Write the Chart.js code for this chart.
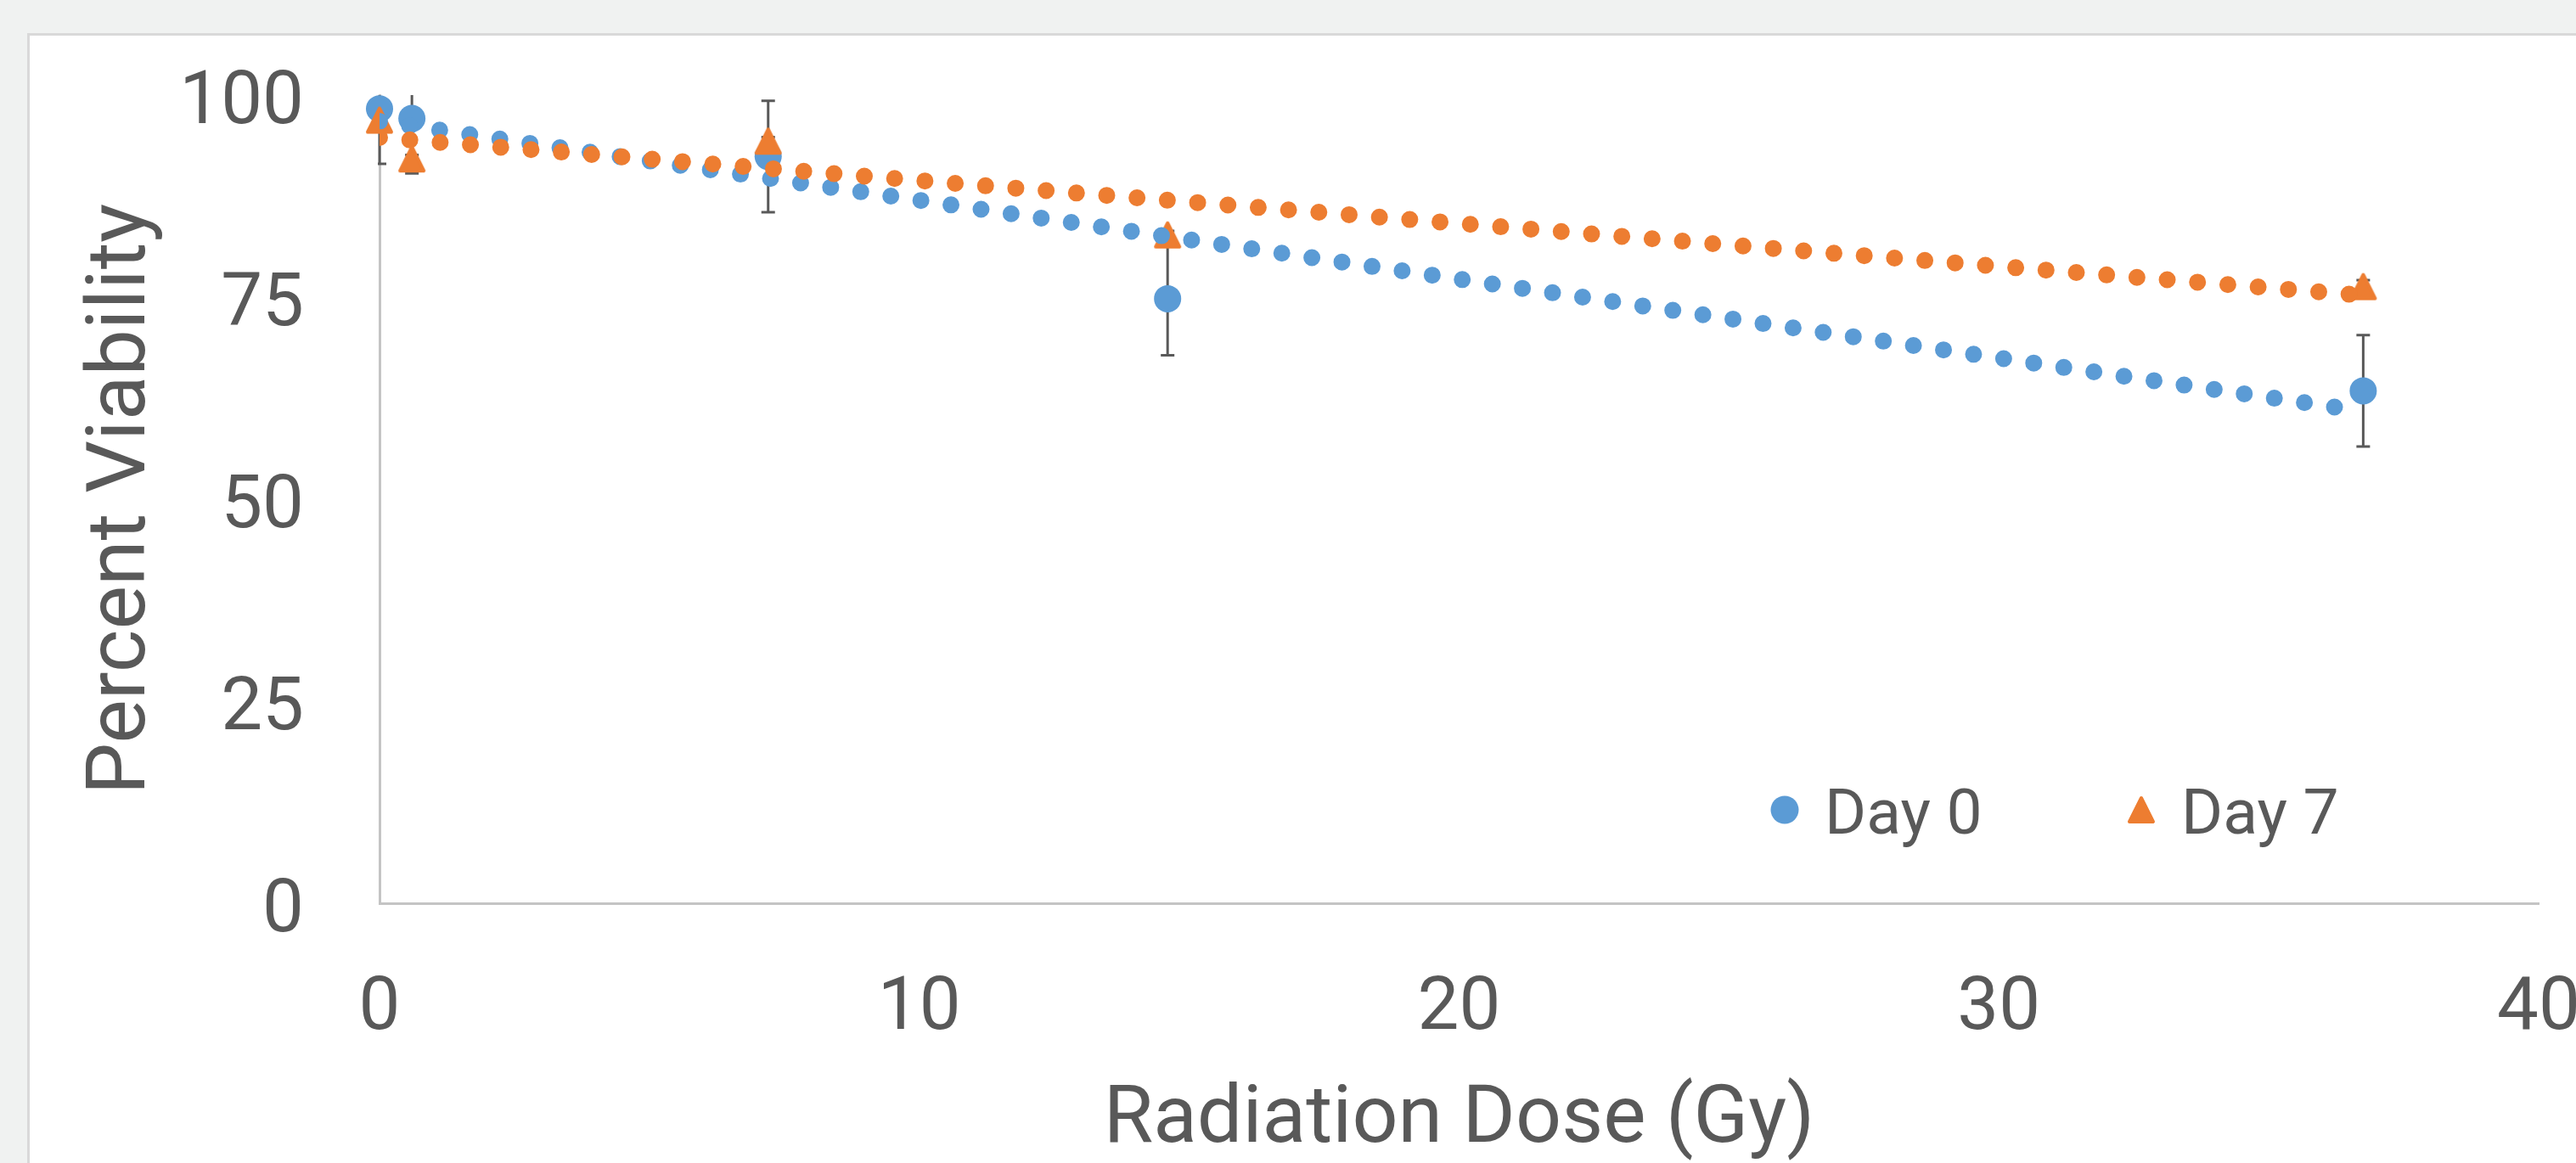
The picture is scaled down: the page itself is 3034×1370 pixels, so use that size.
<!DOCTYPE html>
<html>
<head>
<meta charset="utf-8">
<script src="https://cdn.jsdelivr.net/npm/chart.js@4/dist/chart.umd.min.js"></script>
<style>
  html, body { margin: 0; padding: 0; background: #f0f2f1; width: 3034px; height: 1370px; overflow: hidden; }
  #panel { position: absolute; left: 32px; top: 39px; right: 0; bottom: 0; background: #ffffff;
           border-left: 3px solid #d9d9d9; border-top: 3px solid #d9d9d9; }
  #c { position: absolute; left: 0; top: 0; }
</style>
</head>
<body>
<div id="panel"></div>
<canvas id="c" width="3034" height="1370"></canvas>
<script>
// ---- data ----
const dose = [0, 0.6, 7.2, 14.6, 36.75];          // Radiation Dose (Gy)
const day0 = [98.3, 97.1, 92.4, 74.8, 63.4];      // Percent Viability, Day 0
const day0Err = [6.8, 6.8, 6.9, 7.0, 6.9];
const day7 = [96.9, 92.1, 94.3, 82.7, 76.3];      // Percent Viability, Day 7
const day7Err = [0.5, 0.5, 0.5, 0.5, 0.8];
const seriesLabels = ['Day 0', 'Day 7'];
const xTicks = [0, 10, 20, 30, 40];
const yTicks = [0, 25, 50, 75, 100];
const xTitle = 'Radiation Dose (Gy)';
const yTitle = 'Percent Viability';

const BLUE = '#5b9bd5', ORANGE = '#ed7d31', TEXT = '#595959';
const FONT = 'Roboto';

function pts(xs, ys) { return xs.map((x, i) => ({ x: x, y: ys[i] })); }

// linear least-squares trendline (as Excel's linear trendline)
function trend(xs, ys) {
  const n = xs.length;
  const mx = xs.reduce((a, b) => a + b, 0) / n;
  const my = ys.reduce((a, b) => a + b, 0) / n;
  let sxy = 0, sxx = 0;
  for (let i = 0; i < n; i++) { sxy += (xs[i] - mx) * (ys[i] - my); sxx += (xs[i] - mx) ** 2; }
  const m = sxy / sxx, b = my - m * mx;
  const x0 = Math.min(...xs), x1 = Math.max(...xs);
  return [{ x: x0, y: m * x0 + b }, { x: x1, y: m * x1 + b }];
}

function makeTriangle(color) {
  const c = document.createElement('canvas');
  c.width = 36; c.height = 36;
  const g = c.getContext('2d');
  g.fillStyle = color; g.strokeStyle = color; g.lineWidth = 4; g.lineJoin = 'round';
  g.beginPath(); g.moveTo(18, 4); g.lineTo(32, 32); g.lineTo(4, 32); g.closePath();
  g.fill(); g.stroke();
  return c;
}
const tri = makeTriangle(ORANGE);

const errorBars = {
  id: 'errorBars',
  beforeDatasetsDraw(chart) {
    const { ctx, chartArea: a, scales: { x, y } } = chart;
    ctx.save();
    ctx.beginPath();
    ctx.rect(a.left - 2, a.top, a.right - a.left + 2, a.bottom - a.top);
    ctx.clip();
    ctx.strokeStyle = '#595959';
    ctx.lineWidth = 3;
    chart.data.datasets.forEach(ds => {
      if (!ds.errors) return;
      ds.data.forEach((p, i) => {
        const px = x.getPixelForValue(p.x);
        const t = y.getPixelForValue(p.y + ds.errors[i]);
        const b = y.getPixelForValue(p.y - ds.errors[i]);
        ctx.beginPath();
        ctx.moveTo(px, t); ctx.lineTo(px, b);
        ctx.moveTo(px - 8, t); ctx.lineTo(px + 8, t);
        ctx.moveTo(px - 8, b); ctx.lineTo(px + 8, b);
        ctx.stroke();
      });
    });
    ctx.restore();
  }
};

const legendPlugin = {
  id: 'customLegend',
  afterDraw(chart) {
    const ctx = chart.ctx;
    const items = [
      { x: 2102, label: chart.data.datasets[0].label, kind: 'circle' },
      { x: 2522, label: chart.data.datasets[1].label, kind: 'tri' }
    ];
    const y = 954;
    ctx.save();
    items.forEach(it => {
      if (it.kind === 'circle') {
        ctx.fillStyle = BLUE;
        ctx.beginPath(); ctx.arc(it.x, y, 16.5, 0, Math.PI * 2); ctx.fill();
      } else {
        ctx.drawImage(tri, it.x - tri.width / 2, y - tri.height / 2);
      }
      ctx.fillStyle = TEXT;
      ctx.font = '75px ' + FONT;
      ctx.textAlign = 'left';
      ctx.textBaseline = 'alphabetic';
      ctx.fillText(it.label, it.x + 47, 982);
    });
    ctx.restore();
  }
};

new Chart(document.getElementById('c'), {
  type: 'scatter',
  data: {
    datasets: [
      { label: seriesLabels[0], data: pts(dose, day0), errors: day0Err,
        pointStyle: 'circle', pointRadius: 16, pointBorderWidth: 0, pointHoverRadius: 16,
        backgroundColor: BLUE, borderColor: BLUE, clip: false, order: 4 },
      { label: seriesLabels[1], data: pts(dose, day7), errors: day7Err,
        pointStyle: tri, pointRadius: 18, pointBorderWidth: 0, pointHoverRadius: 18,
        backgroundColor: ORANGE, borderColor: ORANGE, clip: false, order: 3 },
      { label: seriesLabels[0] + ' trend', type: 'line', data: trend(dose, day0),
        borderColor: BLUE, borderWidth: 20, borderDash: [0, 35.8], borderCapStyle: 'round',
        pointRadius: 0, pointHoverRadius: 0, tension: 0, fill: false, clip: 0, order: 2 },
      { label: seriesLabels[1] + ' trend', type: 'line', data: trend(dose, day7),
        borderColor: ORANGE, borderWidth: 20, borderDash: [0, 35.8], borderCapStyle: 'round',
        pointRadius: 0, pointHoverRadius: 0, tension: 0, fill: false, clip: 0, order: 1 }
    ]
  },
  options: {
    responsive: false,
    animation: false,
    events: [],
    layout: { autoPadding: false, padding: { left: 0, right: 44, top: 112, bottom: 0 } },
    plugins: { legend: { display: false }, tooltip: { enabled: false }, title: { display: false } },
    scales: {
      x: {
        type: 'linear', min: xTicks[0], max: xTicks[xTicks.length - 1],
        afterBuildTicks: s => { s.ticks = xTicks.map(v => ({ value: v })); },
        afterFit: s => { s.height = 306; s.paddingLeft = 0; s.paddingRight = 0; },
        grid: { display: false, drawTicks: false },
        border: { display: true, color: '#c4c4c4', width: 3 },
        ticks: { color: TEXT, font: { family: FONT, size: 87, lineHeight: 1 }, padding: 83, maxRotation: 0 },
        title: { display: true, text: xTitle, color: TEXT,
                 font: { family: FONT, size: 95, lineHeight: 1 }, padding: { top: 0, bottom: 1 } }
      },
      y: {
        type: 'linear', min: yTicks[0], max: yTicks[yTicks.length - 1],
        afterBuildTicks: s => { s.ticks = yTicks.map(v => ({ value: v })); },
        afterFit: s => { s.width = 447; s.paddingTop = 0; s.paddingBottom = 0; },
        grid: { display: false, drawTicks: false },
        border: { display: true, color: '#c4c4c4', width: 3 },
        ticks: { color: TEXT, font: { family: FONT, size: 87, lineHeight: 1 }, padding: 89, labelOffset: 11 },
        title: { display: true, text: yTitle, color: TEXT,
                 font: { family: FONT, size: 97, lineHeight: 1 }, padding: { top: 97, bottom: 0 } }
      }
    }
  },
  plugins: [errorBars, legendPlugin]
});
</script>
</body>
</html>
